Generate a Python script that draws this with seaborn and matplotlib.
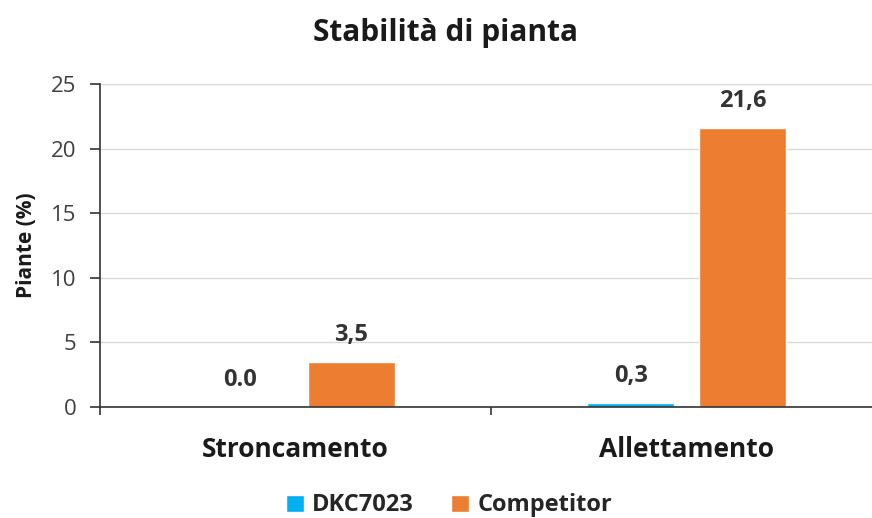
import matplotlib
matplotlib.use("Agg")
import matplotlib.pyplot as plt
import seaborn as sns
import pandas as pd

categories = ["Stroncamento", "Allettamento"]
series = ["DKC7023", "Competitor"]
dkc_values = [0.0, 0.3]
comp_values = [3.5, 21.6]
dkc_labels = ["0.0", "0,3"]
comp_labels = ["3,5", "21,6"]
y_ticks = [0, 5, 10, 15, 20, 25]
colors = ["#00B0F0", "#ED7D31"]

df = pd.DataFrame({
    "Categoria": categories * 2,
    "Serie": [series[0]] * 2 + [series[1]] * 2,
    "Valore": dkc_values + comp_values,
})

sns.set_theme(style="white")
plt.rcParams["font.family"] = ["Open Sans", "DejaVu Sans"]

fig = plt.figure(figsize=(8.72, 5.18), dpi=100)
ax = fig.add_axes([100 / 872, 1 - 407 / 518, 782 / 872, 323 / 518])

sns.barplot(data=df, x="Categoria", y="Valore", hue="Serie", order=categories,
            hue_order=series, palette=colors, width=0.572, gap=0.22,
            saturation=1, ax=ax, legend=True)

ax.set_xlim(-0.5, 1.5)
ax.set_ylim(0, 25)
ax.set_yticks(y_ticks)
ax.set_yticklabels([str(t) for t in y_ticks], fontsize=16, color="#404040")
ax.yaxis.grid(True, color="#D9D9D9", linewidth=1)
ax.set_axisbelow(True)
for s in ["top", "right"]:
    ax.spines[s].set_visible(False)
for s in ["left", "bottom"]:
    ax.spines[s].set_color("#333333")
    ax.spines[s].set_linewidth(1.2)
ax.tick_params(axis="y", which="major", left=True, length=7, width=1.2,
               color="#333333", direction="out", pad=10)
ax.tick_params(axis="x", which="major", length=0, pad=21)
ax.set_xticks([-0.5, 0.5, 1.5], minor=True)
ax.tick_params(axis="x", which="minor", bottom=True, length=6, width=1.2,
               color="#333333", direction="out")
for lbl in ax.get_xticklabels():
    lbl.set_fontsize(19)
    lbl.set_fontweight("bold")
    lbl.set_color("#1a1a1a")
ax.set_xlabel("")
ax.set_ylabel("Piante (%)", fontsize=15, fontweight="bold", color="#1a1a1a", labelpad=10)

all_labels = [dkc_labels, comp_labels]
for container, labels in zip(ax.containers, all_labels):
    ax.bar_label(container, labels=labels, padding=11, fontsize=17,
                 fontweight="bold", color="#333333")

fig.suptitle("Stabilità di pianta", x=0.511, y=0.965, fontsize=21.5,
             fontweight="bold", color="#1a1a1a")

handles, lbls = ax.get_legend_handles_labels()
ax.legend_.remove()
fig.legend(handles, lbls, loc="lower center", bbox_to_anchor=(0.515, -0.04), ncol=2,
           frameon=False, prop={"size": 17, "weight": "bold"},
           handlelength=0.75, handleheight=0.75, handletextpad=0.35,
           columnspacing=1.6)

fig.savefig("out.png", dpi=100)
